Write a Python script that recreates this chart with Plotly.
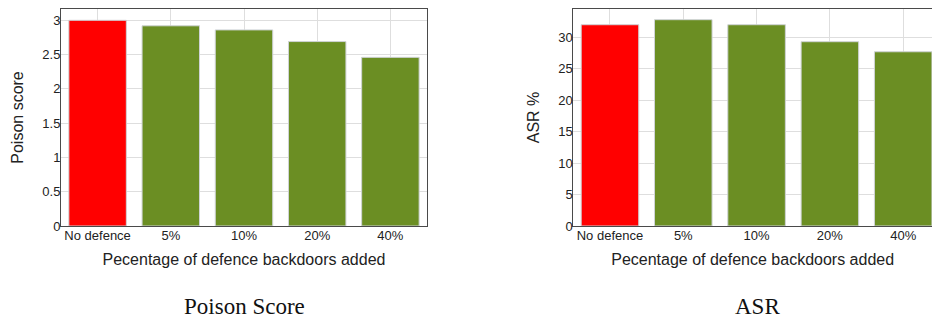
import plotly.graph_objects as go

# Categories and measured values
categories = ["No defence", "5%", "10%", "20%", "40%"]
poison_score = [3.00, 2.92, 2.86, 2.69, 2.46]
asr_percent = [32.0, 32.8, 32.0, 29.3, 27.7]
bar_colors = ["#ff0000", "#6b8e23", "#6b8e23", "#6b8e23", "#6b8e23"]

x_title = "Pecentage of defence backdoors added"
captions = ["Poison Score", "ASR"]

SANS = "Liberation Sans, Arial, sans-serif"
SERIF = "Liberation Serif, Times New Roman, serif"
GRID = "#dedede"
LINE = "#4a4a4a"

fig = go.Figure()

fig.add_trace(go.Bar(
    x=categories, y=poison_score, xaxis="x", yaxis="y",
    marker=dict(color=bar_colors, line=dict(color="#cfd3d6", width=1)),
    width=0.785, showlegend=False,
))
fig.add_trace(go.Bar(
    x=categories, y=asr_percent, xaxis="x2", yaxis="y2",
    marker=dict(color=bar_colors, line=dict(color="#cfd3d6", width=1)),
    width=0.785, showlegend=False,
))

common_x = dict(
    type="category", showgrid=True, gridcolor=GRID, gridwidth=1,
    showline=True, linecolor=LINE, linewidth=1, mirror=True,
    ticks="", ticklabelstandoff=-3,
    tickfont=dict(family=SANS, size=13, color="#222"),
    title=dict(text=x_title, font=dict(family=SANS, size=16, color="#222"), standoff=12),
    automargin=False, zeroline=False,
)
common_y = dict(
    showgrid=True, gridcolor=GRID, gridwidth=1,
    showline=True, linecolor=LINE, linewidth=1,
    ticks="", ticklabelstandoff=-3,
    tickfont=dict(family=SANS, size=13, color="#222"),
    automargin=False, zeroline=False,
)

fig.update_layout(
    width=932, height=321,
    margin=dict(l=61, r=0, t=9, b=95),
    paper_bgcolor="white", plot_bgcolor="white",
    bargap=0.215,
    xaxis=dict(common_x, domain=[0, 0.4202], range=[-0.5, 4.5], anchor="y"),
    yaxis=dict(common_y, domain=[0, 1], range=[0, 3.165], dtick=0.5, mirror=True,
               anchor="x",
               title=dict(text="Poison score", font=dict(family=SANS, size=16, color="#222"),
                          standoff=14)),
    xaxis2=dict(common_x, domain=[0.5882, 1], range=[-0.5, 4.393], anchor="y2"),
    yaxis2=dict(common_y, domain=[0, 1], range=[0, 34.5], dtick=5, mirror=False,
                anchor="x2",
                title=dict(text="ASR %", font=dict(family=SANS, size=16, color="#222"),
                           standoff=14)),
)

# Captions beneath each panel
for text, xc in zip(captions, [244.2, 757.0]):
    fig.add_annotation(
        text=text, xref="paper", yref="paper",
        x=(xc - 61) / 871, y=-(306 - 9 - 217) / 217,
        xanchor="center", yanchor="middle", showarrow=False,
        font=dict(family=SERIF, size=23, color="#111"),
    )

fig.write_html("out.html")
